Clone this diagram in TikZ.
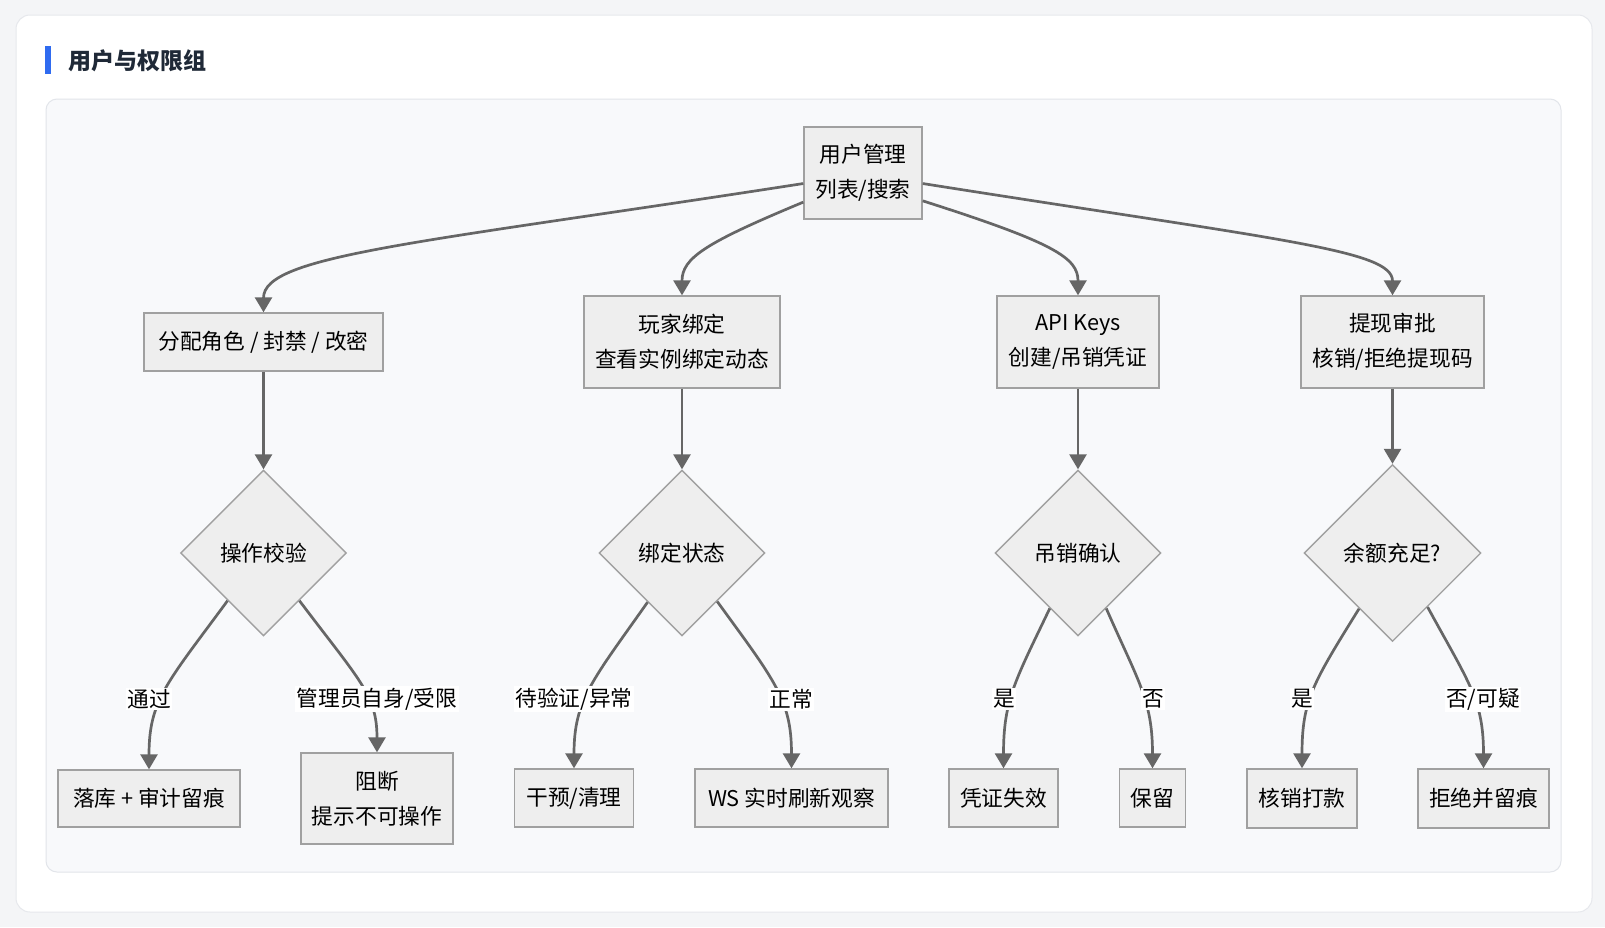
\documentclass[tikz,border=0pt]{standalone}
\usepackage{fontspec}
\setmainfont{Noto Sans CJK SC}
\usetikzlibrary{shapes.geometric,arrows.meta}
\definecolor{pagebg}{HTML}{F4F5F7}
\definecolor{cardborder}{HTML}{E6E8EC}
\definecolor{panelbg}{HTML}{F8F9FB}
\definecolor{panelborder}{HTML}{E2E5EA}
\definecolor{nodefill}{HTML}{EEEEEE}
\definecolor{nodeline}{HTML}{A0A0A0}
\definecolor{edgecol}{HTML}{666666}
\definecolor{accent}{HTML}{2F6BF0}
\definecolor{titlecol}{HTML}{1F2937}
\newcommand{\nodefont}{\fontsize{21.7pt}{35pt}\selectfont}
\begin{document}
\begin{tikzpicture}[x=1pt,y=-1pt,
  box/.style={rectangle, draw=nodeline, fill=nodefill, line width=1.4pt, inner sep=0pt, align=center, font=\nodefont, text=black},
  decision/.style={diamond, aspect=1, draw=nodeline, fill=nodefill, line width=1.4pt, inner sep=0pt, align=center, font=\nodefont, text=black},
  edge/.style={draw=edgecol, line width=2.7pt, -{Triangle[length=15pt,width=17pt]}},
  elabel/.style={fill=white, inner sep=1.5pt, font=\nodefont, text=black}]
\useasboundingbox (0,0) rectangle (1605,927);
\fill[pagebg] (0,0) rectangle (1605,927);
\draw[cardborder, fill=white, line width=1pt, rounded corners=14pt] (16,15) rectangle (1592,912);
\fill[accent] (45,46) rectangle (51,74);
\node[anchor=west, font=\fontsize{23pt}{27pt}\selectfont\bfseries, text=titlecol, inner sep=0pt] (title) at (68,61) {用户与权限组};
\draw[panelborder, fill=panelbg, line width=1pt, rounded corners=11pt] (46,99) rectangle (1561,872);

% root
\node[box, minimum width=118pt, minimum height=92pt] (root) at (863,173) {用户管理\\列表/搜索};
% middle row
\node[box, minimum width=239pt, minimum height=58pt] (m1) at (263.5,342) {分配角色 / 封禁 / 改密};
\node[box, minimum width=196pt, minimum height=92pt] (m2) at (682,342) {玩家绑定\\查看实例绑定动态};
\node[box, minimum width=162pt, minimum height=92pt] (m3) at (1078,342) {API Keys\\创建/吊销凭证};
\node[box, minimum width=183pt, minimum height=92pt] (m4) at (1392.5,342) {提现审批\\核销/拒绝提现码};
% decisions
\node[decision, minimum width=166pt, minimum height=166pt] (d1) at (263.5,553) {操作校验};
\node[decision, minimum width=166pt, minimum height=166pt] (d2) at (682,553) {绑定状态};
\node[decision, minimum width=166pt, minimum height=166pt] (d3) at (1078,553) {吊销确认};
\node[decision, minimum width=177pt, minimum height=177pt] (d4) at (1392.5,553) {余额充足?};
% leaves
\node[box, minimum width=182pt, minimum height=57pt] (l1) at (149,798.5) {落库 + 审计留痕};
\node[box, minimum width=152pt, minimum height=91pt] (l2) at (377,798.5) {阻断\\提示不可操作};
\node[box, minimum width=119pt, minimum height=58pt] (l3) at (574,798) {干预/清理};
\node[box, minimum width=193pt, minimum height=58pt] (l4) at (791.5,798) {WS 实时刷新观察};
\node[box, minimum width=109pt, minimum height=58pt] (l5) at (1003.5,798) {凭证失效};
\node[box, minimum width=66pt, minimum height=58pt] (l6) at (1152.5,798) {保留};
\node[box, minimum width=110pt, minimum height=59pt] (l7) at (1302,798.5) {核销打款};
\node[box, minimum width=131pt, minimum height=59pt] (l8) at (1483.5,798.5) {拒绝并留痕};

% root to middle
\draw[edge] (root.190) .. controls (420,243) and (263.5,255) .. (m1.north);
\draw[edge] (root.206) .. controls (705,243) and (682,258) .. (m2.north);
\draw[edge] (root.335) .. controls (1055,243) and (1078,258) .. (m3.north);
\draw[edge] (root.350) .. controls (1280,240) and (1392.5,250) .. (m4.north);
% middle to decisions
\draw[edge] (m1.south) -- (d1.north);
\draw[edge] (m2.south) -- (d2.north);
\draw[edge] (m3.south) -- (d3.north);
\draw[edge] (m4.south) -- (d4.north);
% decisions to leaves
\draw[edge] (d1.233) .. controls (167,683) and (149,700) .. (l1.north);
\draw[edge] (d1.307) .. controls (360,681) and (377,695) .. (l2.north);
\draw[edge] (d2.235) .. controls (592,681) and (574,700) .. (l3.north);
\draw[edge] (d2.306) .. controls (775,681) and (791.5,700) .. (l4.north);
\draw[edge] (d3.243) .. controls (1015,681) and (1003.5,700) .. (l5.north);
\draw[edge] (d3.297) .. controls (1138,681) and (1152.5,700) .. (l6.north);
\draw[edge] (d4.239) .. controls (1313,683) and (1302,700) .. (l7.north);
\draw[edge] (d4.303) .. controls (1469,683) and (1483.5,700) .. (l8.north);
% edge labels
\node[elabel] (e1) at (149,699) {通过};
\node[elabel] (e2) at (377,699) {管理员自身/受限};
\node[elabel] (e3) at (574,699) {待验证/异常};
\node[elabel] (e4) at (791,699) {正常};
\node[elabel] (e5) at (1004,699) {是};
\node[elabel] (e6) at (1153,699) {否};
\node[elabel] (e7) at (1302,699) {是};
\node[elabel] (e8) at (1483,699) {否/可疑};
\end{tikzpicture}
\end{document}
